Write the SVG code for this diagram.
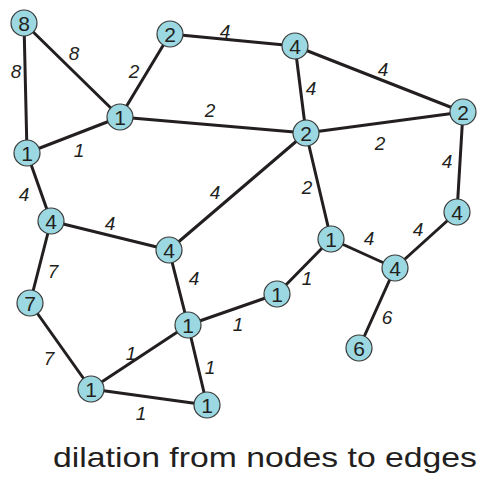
<svg xmlns="http://www.w3.org/2000/svg" width="483" height="478" viewBox="0 0 483 478">
<style>
.e{stroke:#231f20;stroke-width:3;fill:none;stroke-linecap:round}
.n circle{fill:#9bd8e1;stroke:#3a3a3a;stroke-width:1.2}
.n text{font-family:"Liberation Sans",Arial,sans-serif;font-size:21px;fill:#231f20;text-anchor:middle}
.l{font-family:"Liberation Sans",Arial,sans-serif;font-size:19px;font-style:italic;fill:#231f20;text-anchor:middle}
.t{font-family:"Liberation Sans",Arial,sans-serif;font-size:28px;fill:#231f20}
</style>
<rect width="483" height="478" fill="#fff"/>
<g id="edges">
<line class="e" x1="24" y1="23" x2="27" y2="153"/>
<line class="e" x1="24" y1="23" x2="120" y2="117"/>
<line class="e" x1="170" y1="34" x2="120" y2="117"/>
<line class="e" x1="170" y1="34" x2="295" y2="46"/>
<line class="e" x1="120" y1="117" x2="306" y2="133"/>
<line class="e" x1="27" y1="153" x2="120" y2="117"/>
<line class="e" x1="27" y1="153" x2="51" y2="221"/>
<line class="e" x1="51" y1="221" x2="169" y2="250"/>
<line class="e" x1="169" y1="250" x2="306" y2="133"/>
<line class="e" x1="295" y1="46" x2="306" y2="133"/>
<line class="e" x1="295" y1="46" x2="463" y2="112"/>
<line class="e" x1="306" y1="133" x2="463" y2="112"/>
<line class="e" x1="306" y1="133" x2="331" y2="239"/>
<line class="e" x1="463" y1="112" x2="457" y2="212"/>
<line class="e" x1="457" y1="212" x2="395" y2="268"/>
<line class="e" x1="331" y1="239" x2="395" y2="268"/>
<line class="e" x1="331" y1="239" x2="277" y2="294"/>
<line class="e" x1="277" y1="294" x2="188" y2="325"/>
<line class="e" x1="395" y1="268" x2="359" y2="348"/>
<line class="e" x1="51" y1="221" x2="30" y2="303"/>
<line class="e" x1="169" y1="250" x2="188" y2="325"/>
<line class="e" x1="30" y1="303" x2="91" y2="389"/>
<line class="e" x1="91" y1="389" x2="188" y2="325"/>
<line class="e" x1="188" y1="325" x2="207" y2="405"/>
<line class="e" x1="91" y1="389" x2="207" y2="405"/>
</g>
<g id="edge-labels">
<text class="l" x="16" y="78">8</text>
<text class="l" x="74" y="60">8</text>
<text class="l" x="134" y="78">2</text>
<text class="l" x="225" y="38">4</text>
<text class="l" x="210" y="117">2</text>
<text class="l" x="79" y="157">1</text>
<text class="l" x="24" y="201">4</text>
<text class="l" x="110" y="230">4</text>
<text class="l" x="215" y="199">4</text>
<text class="l" x="311" y="95">4</text>
<text class="l" x="383" y="76">4</text>
<text class="l" x="380" y="150">2</text>
<text class="l" x="307" y="194">2</text>
<text class="l" x="447" y="168">4</text>
<text class="l" x="418" y="236">4</text>
<text class="l" x="369" y="245">4</text>
<text class="l" x="307" y="285">1</text>
<text class="l" x="238" y="331">1</text>
<text class="l" x="387" y="324">6</text>
<text class="l" x="53" y="278">7</text>
<text class="l" x="194" y="285">4</text>
<text class="l" x="49" y="365">7</text>
<text class="l" x="131" y="360">1</text>
<text class="l" x="210" y="374">1</text>
<text class="l" x="141" y="420">1</text>
</g>
<g id="n1" class="n"><circle cx="24" cy="23" r="13"/><text x="24" y="30.5">8</text></g>
<g id="n2" class="n"><circle cx="170" cy="34" r="13"/><text x="170" y="41.5">2</text></g>
<g id="n3" class="n"><circle cx="295" cy="46" r="13"/><text x="295" y="53.5">4</text></g>
<g id="n4" class="n"><circle cx="120" cy="117" r="13"/><text x="120" y="124.5">1</text></g>
<g id="n5" class="n"><circle cx="306" cy="133" r="13"/><text x="306" y="140.5">2</text></g>
<g id="n6" class="n"><circle cx="463" cy="112" r="13"/><text x="463" y="119.5">2</text></g>
<g id="n7" class="n"><circle cx="27" cy="153" r="13"/><text x="27" y="160.5">1</text></g>
<g id="n8" class="n"><circle cx="51" cy="221" r="13"/><text x="51" y="228.5">4</text></g>
<g id="n9" class="n"><circle cx="457" cy="212" r="13"/><text x="457" y="219.5">4</text></g>
<g id="n10" class="n"><circle cx="169" cy="250" r="13"/><text x="169" y="257.5">4</text></g>
<g id="n11" class="n"><circle cx="331" cy="239" r="13"/><text x="331" y="246.5">1</text></g>
<g id="n12" class="n"><circle cx="395" cy="268" r="13"/><text x="395" y="275.5">4</text></g>
<g id="n13" class="n"><circle cx="277" cy="294" r="13"/><text x="277" y="301.5">1</text></g>
<g id="n14" class="n"><circle cx="30" cy="303" r="13"/><text x="30" y="310.5">7</text></g>
<g id="n15" class="n"><circle cx="188" cy="325" r="13"/><text x="188" y="332.5">1</text></g>
<g id="n16" class="n"><circle cx="359" cy="348" r="13"/><text x="359" y="355.5">6</text></g>
<g id="n17" class="n"><circle cx="91" cy="389" r="13"/><text x="91" y="396.5">1</text></g>
<g id="n18" class="n"><circle cx="207" cy="405" r="13"/><text x="207" y="412.5">1</text></g>
<text class="t" x="53" y="467" textLength="424" lengthAdjust="spacingAndGlyphs">dilation from nodes to edges</text>
</svg>
